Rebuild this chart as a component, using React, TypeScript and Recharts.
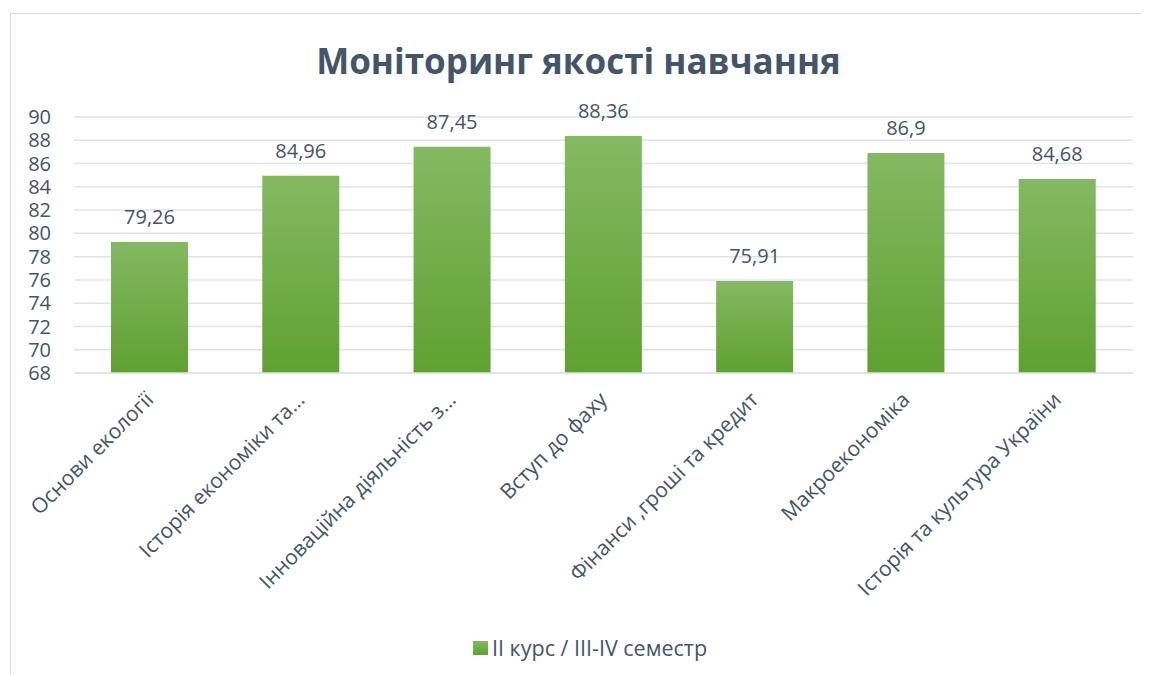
import React from 'react';
import { BarChart, Bar, XAxis, YAxis, CartesianGrid, Legend, LabelList } from 'recharts';

const categories = [
  'Основи екології',
  'Історія економіки та...',
  'Інноваційна діяльність з...',
  'Вступ до фаху',
  'Фінанси ,гроші та кредит',
  'Макроекономіка',
  'Історія та культура України',
];
const values = [79.26, 84.96, 87.45, 88.36, 75.91, 86.9, 84.68];
const yTicks = [68, 70, 72, 74, 76, 78, 80, 82, 84, 86, 88, 90];
const seriesName = 'II курс / III-IV семестр';
const title = 'Моніторинг якості навчання';

const data = categories.map((c, i) => ({ name: c, value: values[i] }));

const TEXT = '#44546A';
const FONT = '"Open Sans", sans-serif';

const XTick = (props: any) => {
  const { x, y, payload } = props;
  const ax = x + 5;
  const ay = y + 20;
  return (
    <text
      x={ax}
      y={ay}
      transform={`rotate(-45, ${ax}, ${ay})`}
      textAnchor="end"
      fill={TEXT}
      fontSize={21}
      fontFamily={FONT}
    >
      {payload.value}
    </text>
  );
};

const LegendContent = () => (
  <div style={{ height: 80, position: 'relative', fontFamily: FONT }}>
    <div style={{ position: 'absolute', left: 465, top: 38, display: 'flex', alignItems: 'center' }}>
      <div style={{ width: 15, height: 14, background: 'linear-gradient(#84b962, #5fa131)', marginRight: 4 }} />
      <span style={{ color: TEXT, fontSize: 21.5 }}>{seriesName}</span>
    </div>
  </div>
);

export default function App() {
  return (
    <div style={{ position: 'relative', width: 1141, height: 667 }}>
      <div
        style={{
          position: 'absolute',
          left: 2,
          top: 5,
          width: 1160,
          height: 700,
          border: '1.5px solid #d9dde3',
          boxSizing: 'border-box',
        }}
      />
      <div
        style={{
          position: 'absolute',
          left: 0,
          width: 1141,
          top: 31,
          textAlign: 'center',
          fontFamily: FONT,
          fontWeight: 700,
          fontSize: 35,
          color: TEXT,
          lineHeight: '44px',
        }}
      >
        {title}
      </div>
      <BarChart
        width={1141}
        height={667}
        data={data}
        margin={{ top: 109, right: 16, left: 0, bottom: 0 }}
        style={{ position: 'absolute', left: 0, top: 0 }}
      >
        <defs>
          <linearGradient id="barGrad" x1="0" y1="0" x2="0" y2="1">
            <stop offset="0%" stopColor="#84b962" />
            <stop offset="100%" stopColor="#5fa131" />
          </linearGradient>
        </defs>
        <CartesianGrid vertical={false} stroke="#dfe3e8" strokeWidth={1.5} />
        <XAxis
          dataKey="name"
          interval={0}
          height={222}
          tick={<XTick />}
          tickLine={false}
          axisLine={{ stroke: '#dfe3e8', strokeWidth: 1.5 }}
        />
        <YAxis
          width={66}
          domain={[68, 90]}
          ticks={yTicks}
          interval={0}
          tickLine={false}
          axisLine={false}
          tickMargin={17}
          tick={{ fill: TEXT, fontSize: 20, fontFamily: FONT }}
        />
        <Legend verticalAlign="bottom" content={<LegendContent />} height={80} />
        <Bar dataKey="value" name={seriesName} fill="url(#barGrad)" barSize={77} isAnimationActive={false}>
          <LabelList
            dataKey="value"
            position="top"
            offset={18}
            formatter={(v: any) => String(v).replace('.', ',')}
            style={{ fill: TEXT, fontSize: 20, fontFamily: FONT }}
          />
        </Bar>
      </BarChart>
    </div>
  );
}
